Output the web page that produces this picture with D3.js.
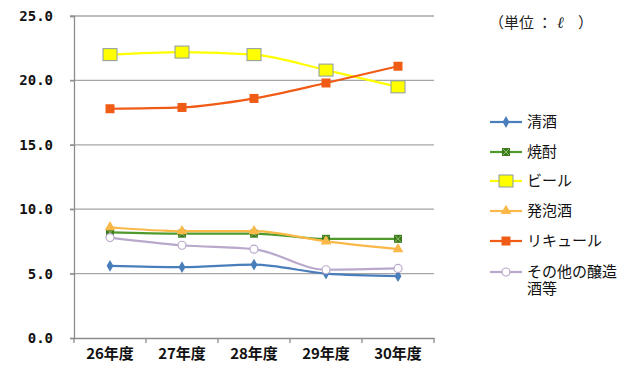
<!DOCTYPE html>
<html>
<head>
<meta charset="utf-8">
<script src="https://cdn.jsdelivr.net/npm/d3@7"></script>
<style>
  body { margin: 0; background: #fff; }
  svg { display: block; }
</style>
</head>
<body>
<div class="chart"></div>
<script>
// data
var years = ['26年度', '27年度', '28年度', '29年度', '30年度']
var yTicks = [0, 5, 10, 15, 20, 25]

var seishu   = [5.6, 5.5, 5.7, 5.0, 4.8]
var shochu   = [8.2, 8.1, 8.1, 7.7, 7.7]
var beer     = [22.0, 22.2, 22.0, 20.8, 19.5]
var happoshu = [8.6, 8.3, 8.3, 7.5, 6.9]
var liqueur  = [17.8, 17.9, 18.6, 19.8, 21.1]
var sonota   = [7.8, 7.2, 6.9, 5.3, 5.4]

var seriesNames = ['清酒', '焼酎', 'ビール', '発泡酒', 'リキュール', 'その他の醸造酒等']

var series = [
  {name: seriesNames[0], values: seishu,   color: '#4a7ebb', marker: 'diamond'},
  {name: seriesNames[1], values: shochu,   color: '#4f9a2c', marker: 'xsquare'},
  {name: seriesNames[2], values: beer,     color: '#ffff00', marker: 'bigsquare'},
  {name: seriesNames[3], values: happoshu, color: '#f9b848', marker: 'triangle'},
  {name: seriesNames[4], values: liqueur,  color: '#f05b16', marker: 'square'},
  {name: seriesNames[5], values: sonota,   color: '#b9a8cc', marker: 'circle'}
]

var width = 643, height = 373
var margin = {top: 16, left: 74, right: 209, bottom: 35}

var svg = d3.select('.chart').append('svg')
  .attr('width', width)
  .attr('height', height)

var x = d3.scaleBand()
  .domain(years)
  .range([margin.left, width - margin.right])

var y = d3.scaleLinear()
  .domain([0, 25])
  .range([height - margin.bottom, margin.top])

// gridlines
svg.append('g')
  .selectAll('line')
  .data(yTicks.filter(function(d){ return d > 0 }))
  .enter().append('line')
  .attr('x1', margin.left - 4)
  .attr('x2', width - margin.right)
  .attr('y1', function(d){ return y(d) })
  .attr('y2', function(d){ return y(d) })
  .attr('stroke', '#a6a6a6')
  .attr('stroke-width', 1.3)

// y axis
var yAxis = svg.append('g')
  .attr('transform', 'translate(' + margin.left + ',0)')
  .call(d3.axisLeft(y).tickValues(yTicks).tickSize(4).tickPadding(17)
    .tickFormat(d3.format('.1f')))
yAxis.select('.domain').attr('stroke', '#8c8c8c').attr('stroke-width', 1.3)
yAxis.selectAll('.tick line').attr('stroke', '#8c8c8c').attr('stroke-width', 1.3)
yAxis.selectAll('text')
  .attr('fill', '#111')
  .style('font-family', '"DejaVu Sans Mono", monospace')
  .style('font-size', '14px')
  .style('font-weight', 'bold')

// x axis
var xAxis = svg.append('g')
  .attr('transform', 'translate(0,' + y(0) + ')')
  .call(d3.axisBottom(x).tickSize(0).tickPadding(10))
xAxis.select('.domain').attr('stroke', '#8c8c8c').attr('stroke-width', 1.3)
xAxis.selectAll('text')
  .attr('fill', '#111')
  .style('font-family', '"Noto Sans CJK JP", sans-serif')
  .style('font-size', '15px')
  .style('font-weight', 'bold')

// category boundary ticks
var bounds = years.map(function(d){ return x(d) }).concat([x(years[4]) + x.bandwidth()])
svg.append('g')
  .selectAll('line')
  .data(bounds)
  .enter().append('line')
  .attr('x1', function(d){ return d })
  .attr('x2', function(d){ return d })
  .attr('y1', y(0))
  .attr('y2', y(0) + 5)
  .attr('stroke', '#8c8c8c')
  .attr('stroke-width', 1.3)

function cx(i){ return x(years[i]) + x.bandwidth() / 2 }

function drawMarker(g, s, px, py){
  if (s.marker == 'diamond'){
    g.append('path')
      .attr('d', d3.symbol().type(d3.symbolDiamond).size(40)())
      .attr('transform', 'translate(' + px + ',' + py + ')')
      .attr('fill', s.color)
  } else if (s.marker == 'xsquare'){
    g.append('rect')
      .attr('x', px - 4).attr('y', py - 4).attr('width', 8).attr('height', 8)
      .attr('fill', '#3c7a1e')
    g.append('path')
      .attr('d', 'M' + (px-3) + ',' + (py-3) + 'L' + (px+3) + ',' + (py+3) +
                 'M' + (px+3) + ',' + (py-3) + 'L' + (px-3) + ',' + (py+3))
      .attr('stroke', '#8fc06a').attr('stroke-width', 1)
  } else if (s.marker == 'bigsquare'){
    g.append('rect')
      .attr('x', px - 7).attr('y', py - 6).attr('width', 14).attr('height', 12)
      .attr('fill', s.color).attr('stroke', '#8c9aa4').attr('stroke-width', 1)
  } else if (s.marker == 'triangle'){
    g.append('path')
      .attr('d', d3.symbol().type(d3.symbolTriangle).size(50)())
      .attr('transform', 'translate(' + px + ',' + py + ')')
      .attr('fill', s.color)
  } else if (s.marker == 'square'){
    g.append('rect')
      .attr('x', px - 4.5).attr('y', py - 4.5).attr('width', 9).attr('height', 9)
      .attr('fill', s.color)
  } else if (s.marker == 'circle'){
    g.append('circle')
      .attr('cx', px).attr('cy', py).attr('r', 4)
      .attr('fill', '#fff').attr('stroke', s.color).attr('stroke-width', 1.2)
  }
}

var line = d3.line()
  .x(function(d, i){ return cx(i) })
  .y(function(d){ return y(d) })
  .curve(d3.curveMonotoneX)

series.forEach(function(s){
  var g = svg.append('g')
  g.append('path')
    .datum(s.values)
    .attr('d', line)
    .attr('fill', 'none')
    .attr('stroke', s.color)
    .attr('stroke-width', 2.2)
  s.values.forEach(function(v, i){
    drawMarker(g, s, cx(i), y(v))
  })
})

// unit label
var unit = svg.append('text')
  .attr('y', 28)
  .style('font-family', '"Noto Sans CJK JP", sans-serif')
  .style('font-size', '15px')
  .attr('fill', '#222')
unit.append('tspan').attr('x', 489).text('（単位 ：')
unit.append('tspan').attr('x', 557).style('font-style', 'italic')
  .style('font-family', '"DejaVu Serif", serif').style('font-size', '16px').text('ℓ')
unit.append('tspan').attr('x', 578).text('）')

// legend
var legendY = [122, 152, 181, 211, 241, 272]
series.forEach(function(s, i){
  var g = svg.append('g')
  g.append('line')
    .attr('x1', 490).attr('x2', 522)
    .attr('y1', legendY[i]).attr('y2', legendY[i])
    .attr('stroke', s.color).attr('stroke-width', 2.2)
  drawMarker(g, s, 506, legendY[i])
  var t = g.append('text')
    .attr('x', 527)
    .attr('y', legendY[i] + 5)
    .style('font-family', '"Noto Sans CJK JP", sans-serif')
    .style('font-size', '15px')
    .attr('fill', '#111')
  if (s.name.length > 6){
    t.append('tspan').attr('x', 527).text(s.name.slice(0, 6))
    t.append('tspan').attr('x', 527).attr('dy', 17).text(s.name.slice(6))
  } else {
    t.text(s.name)
  }
})
</script>
</body>
</html>
